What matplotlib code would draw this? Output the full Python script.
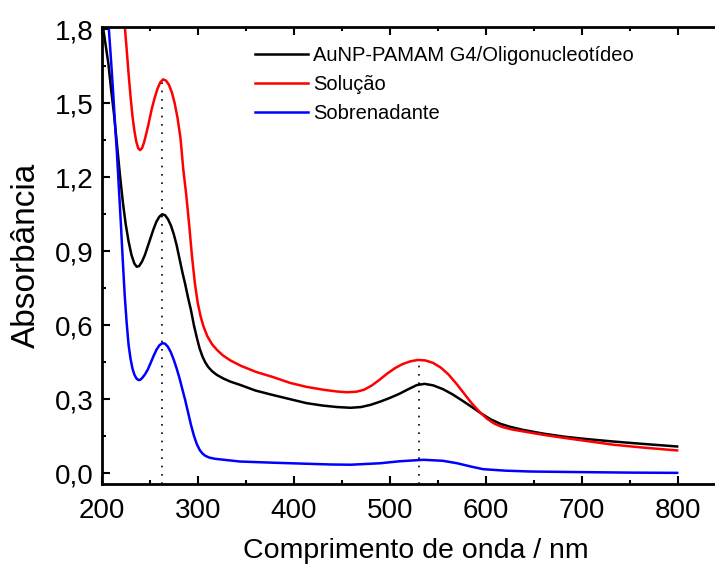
import matplotlib
matplotlib.use('Agg')
import matplotlib.pyplot as plt
from matplotlib.ticker import MultipleLocator, FuncFormatter

plt.rcParams['font.family'] = ['Liberation Sans', 'DejaVu Sans']

# AuNP-PAMAM G4/Oligonucleotideo (black)
wl_black = [201.7, 204, 207, 210, 213, 216, 219, 222, 225, 228, 231, 234, 236.5, 239, 242,
            245, 248, 251, 254, 257, 260, 263, 266, 269, 272, 275, 278, 281, 284, 287,
            290, 293, 296, 299, 302, 305, 308, 311, 315, 320, 327, 334, 344, 360, 378,
            396, 413, 430, 445, 459, 470, 480, 490, 500, 510, 520, 528, 536, 545, 555,
            565, 575, 585, 595, 605, 615, 625, 639, 660, 681, 705, 733, 765, 799]
abs_black = [1.80, 1.74, 1.66, 1.55, 1.45, 1.33, 1.21, 1.10, 1.01, 0.94, 0.885, 0.85, 0.837, 0.84, 0.858,
             0.885, 0.92, 0.955, 0.99, 1.02, 1.04, 1.05, 1.046, 1.03, 1.005, 0.97, 0.925, 0.87, 0.815, 0.765,
             0.71, 0.66, 0.60, 0.55, 0.505, 0.472, 0.448, 0.43, 0.413, 0.398, 0.383, 0.371, 0.358, 0.335, 0.317,
             0.30, 0.284, 0.274, 0.268, 0.265, 0.268, 0.277, 0.29, 0.305, 0.322, 0.342, 0.357, 0.362, 0.356, 0.341,
             0.32, 0.295, 0.269, 0.242, 0.218, 0.2, 0.188, 0.175, 0.160, 0.148, 0.138, 0.128, 0.118, 0.108]

# Solucao (red)
wl_red = [224.3, 226, 228, 230, 232, 234, 236, 238, 240, 242, 244, 246, 249, 252, 255,
          258, 261, 264, 267, 270, 273, 276, 279, 282, 285, 288, 291, 294, 297, 300,
          303, 306, 310, 315, 320, 326, 334, 345, 361, 378, 396, 413, 431, 445, 455,
          465, 473, 481, 489, 497, 505, 513, 521, 529, 537, 545, 553, 561, 569, 577,
          585, 593, 601, 609, 617, 627, 639, 660, 681, 705, 733, 765, 799]
abs_red = [1.80, 1.72, 1.62, 1.53, 1.45, 1.39, 1.345, 1.318, 1.31, 1.318, 1.34, 1.37, 1.42, 1.475, 1.52,
           1.558, 1.585, 1.597, 1.592, 1.575, 1.545, 1.50, 1.44, 1.36, 1.23, 1.13, 1.01, 0.88, 0.77, 0.69,
           0.635, 0.595, 0.555, 0.522, 0.50, 0.478, 0.457, 0.435, 0.41, 0.39, 0.366, 0.35, 0.338, 0.331, 0.328,
           0.33, 0.338, 0.355, 0.378, 0.403, 0.425, 0.442, 0.453, 0.459, 0.457, 0.447, 0.428, 0.40, 0.364, 0.324,
           0.284, 0.25, 0.221, 0.2, 0.187, 0.177, 0.169, 0.155, 0.143, 0.130, 0.115, 0.103, 0.092]

# Sobrenadante (blue)
wl_blue = [207.5, 210, 212, 214, 216, 218, 220, 222, 224, 226, 228, 230, 232, 234, 236,
           238, 240, 242, 245, 248, 251, 254, 257, 260, 263, 266, 269, 272, 275, 278,
           281, 284, 287, 290, 293, 296, 299, 302, 305, 308, 312, 318, 325, 344, 380,
           438, 459, 490, 510, 535, 555, 570, 585, 597, 620, 646, 700, 750, 799]
abs_blue = [1.80, 1.66, 1.54, 1.41, 1.29, 1.15, 1.01, 0.86, 0.72, 0.61, 0.52, 0.465, 0.425, 0.40, 0.385,
            0.378, 0.378, 0.385, 0.40, 0.42, 0.447, 0.475, 0.50, 0.518, 0.527, 0.525, 0.512, 0.49, 0.46, 0.425,
            0.385, 0.34, 0.295, 0.245, 0.195, 0.152, 0.118, 0.094, 0.079, 0.07, 0.063, 0.058, 0.055, 0.047, 0.042,
            0.035, 0.034, 0.040, 0.048, 0.054, 0.050, 0.040, 0.026, 0.016, 0.010, 0.0065, 0.004, 0.002, 0.001]

# peak markers (dotted lines)
peak_wl = [263, 530]
peak_abs = [1.59, 0.46]

labels = ['AuNP-PAMAM G4/Oligonucleotídeo', 'Solução', 'Sobrenadante']

fig = plt.figure(figsize=(7.15, 5.65), dpi=100)
ax = fig.add_axes([0.1422, 0.143, 0.8774, 0.809])

ymin = -0.045
for xp, yp in zip(peak_wl, peak_abs):
    ax.plot([xp, xp], [ymin, yp], color='black', lw=1.2, linestyle=(0, (1, 4)))

ax.plot(wl_black, abs_black, color='black', lw=1.8, label=labels[0])
ax.plot(wl_red, abs_red, color='#ff0000', lw=1.8, label=labels[1])
ax.plot(wl_blue, abs_blue, color='#0000ff', lw=1.8, label=labels[2])

ax.set_xlim(200, 853)
ax.set_ylim(ymin, 1.809)
ax.xaxis.set_major_locator(MultipleLocator(100))
ax.xaxis.set_minor_locator(MultipleLocator(50))
ax.yaxis.set_major_locator(MultipleLocator(0.3))
ax.yaxis.set_minor_locator(MultipleLocator(0.15))
ax.yaxis.set_major_formatter(FuncFormatter(lambda v, p: f'{v:.1f}'.replace('.', ',')))

ax.tick_params(which='both', direction='in', top=True, right=True, width=1.5, labelsize=20)
ax.tick_params(axis='x', pad=10)
ax.tick_params(axis='y', pad=6)
ax.tick_params(which='major', length=6)
ax.tick_params(which='minor', length=3)
for s in ax.spines.values():
    s.set_linewidth(2)

ax.set_xlabel('Comprimento de onda / nm', fontsize=20.5, labelpad=10)
ax.set_ylabel('Absorbância', fontsize=24, labelpad=9)

ax.legend(loc='upper left', bbox_to_anchor=(0.3566, 0.919), bbox_transform=fig.transFigure,
          frameon=False, fontsize=14.5, handlelength=2.64, handletextpad=0.25,
          labelspacing=0.5, borderpad=0, borderaxespad=0)

fig.savefig('out.png', dpi=100)
